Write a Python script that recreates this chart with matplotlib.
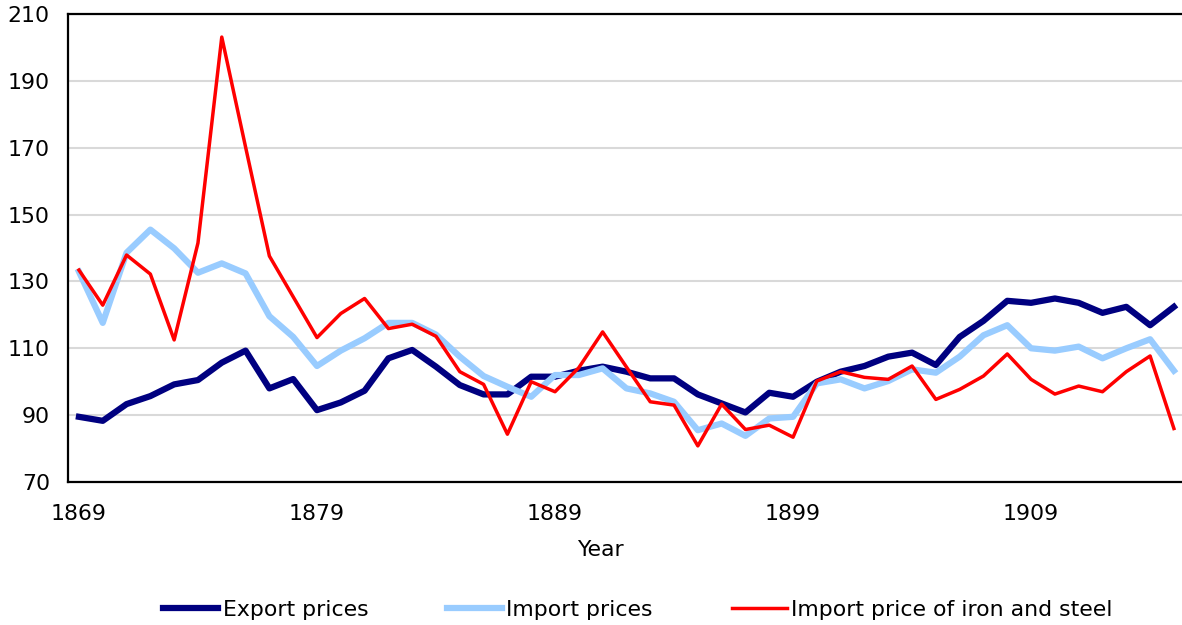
import numpy as np
import matplotlib.pyplot as plt

years = np.arange(1869, 1916)

export_prices = [89.5, 88.3, 93.3, 95.7, 99.2, 100.5, 105.7, 109.3, 98.0, 100.8,
                 91.5, 93.8, 97.3, 107.0, 109.5, 104.5, 99.0, 96.2, 96.2, 101.5,
                 101.5, 103.3, 104.5, 103.0, 101.0, 101.0, 96.2, 93.5, 90.8, 96.7,
                 95.5, 100.0, 103.0, 104.7, 107.5, 108.7, 105.0, 113.4, 118.2, 124.2,
                 123.6, 124.9, 123.6, 120.6, 122.4, 116.9, 122.4]

import_prices = [132.9, 117.6, 138.6, 145.5, 139.9, 132.6, 135.4, 132.4, 119.6, 113.4,
                 104.7, 109.3, 113.0, 117.6, 117.6, 114.1, 107.5, 101.7, 98.5, 95.5,
                 102.0, 102.0, 104.0, 98.0, 96.5, 94.0, 85.5, 87.5, 83.8, 89.0,
                 89.5, 99.5, 100.7, 98.0, 100.2, 103.7, 102.7, 107.5, 113.9, 116.9,
                 110.0, 109.3, 110.5, 107.0, 110.0, 112.7, 103.3]

iron_steel = [133.4, 122.9, 137.9, 132.2, 112.5, 141.5, 203.1, 170.2, 137.6, 125.4,
              113.2, 120.4, 124.9, 115.9, 117.2, 113.6, 103.0, 99.2, 84.3, 100.0,
              97.0, 104.2, 114.9, 104.4, 94.0, 93.0, 80.8, 93.3, 85.7, 87.0,
              83.4, 100.2, 103.0, 101.3, 100.7, 104.7, 94.7, 97.7, 101.7, 108.3,
              100.7, 96.3, 98.7, 97.0, 103.0, 107.7, 86.0]

fs = 15.8

fig = plt.figure(figsize=(11.82, 6.25), dpi=100)
ax = fig.add_axes([68/1182, 1 - 482/625, 1 - 68/1182, (482 - 14)/625])

ax.plot(years, export_prices, color='#000080', lw=4.5, label='Export prices')
ax.plot(years, import_prices, color='#99CCFF', lw=4.5, label='Import prices')
ax.plot(years, iron_steel, color='#FF0000', lw=2.5, label='Import price of iron and steel')

ax.set_xlim(1868.54, 1915.34)
ax.set_ylim(70, 210)
ax.set_yticks(np.arange(70, 211, 20))
ax.set_xticks([1869, 1879, 1889, 1899, 1909])
ax.grid(axis='y', color='#D9D9D9', lw=1.5)
ax.set_axisbelow(True)
ax.tick_params(length=0, labelsize=fs)
ax.tick_params(axis='y', pad=13)
ax.tick_params(axis='x', pad=16)
for s in ['left', 'top', 'bottom']:
    ax.spines[s].set_linewidth(1.6)
    ax.spines[s].set_color('black')
ax.spines['right'].set_visible(False)

ax.set_xlabel('Year', fontsize=fs)
# "Year" sits a bit left of the plot centre in the original
ax.xaxis.set_label_coords((600 - 68) / (1182 - 68), -(550 - 482) / (482 - 14), transform=ax.transAxes)
ax.xaxis.label.set_va('center')

fig.legend(loc='center', bbox_to_anchor=(638/1182, 1 - 610/625), ncol=3,
           frameon=False, fontsize=fs, handlelength=2.5, handletextpad=0.2,
           columnspacing=3.6)

fig.savefig('out.png', dpi=100)
